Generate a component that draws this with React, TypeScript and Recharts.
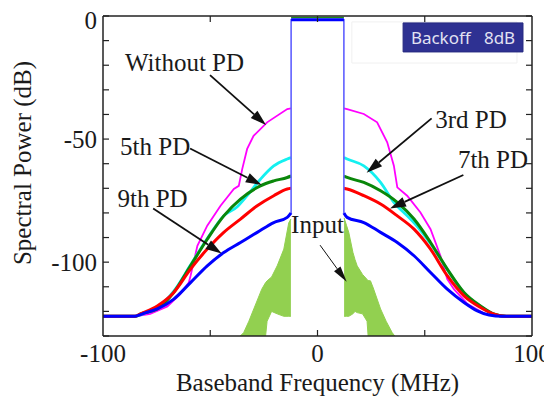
import React from 'react';
import { ComposedChart, Line, Area, XAxis, YAxis, ReferenceLine, ReferenceDot, ReferenceArea } from 'recharts';

// Without PD (magenta)
const withoutFreq = [-100, -85, -78, -70, -64, -60, -59.2, -56, -51.4, -45.2, -39, -36.7, -35.1, -32.8, -29.8, -23.5, -14.1, -12.3,
  12.3, 13.8, 21.6, 27.8, 32.5, 35.6, 37.2, 41.8, 48, 52.7, 57.3, 60.5, 63.6, 70, 78, 85, 100];
const withoutPD = [-122, -122, -121, -118, -113, -108.3, -105.6, -93.4, -85.2, -77.1, -70.3, -69, -62.2, -54, -48.7, -43.2, -37.8, -37.5,
  -37.5, -37.8, -39.8, -43.2, -51.3, -60.8, -69.6, -73, -79.8, -86.6, -97.4, -106.9, -111, -117, -121, -122, -122];

// 3rd PD (cyan)
const pd3Freq = [-100, -85, -80, -74.7, -67, -59.2, -51.4, -43.7, -37.4, -32.8, -26.6, -20.4, -14.1, -12.3,
  12.3, 13.8, 21.6, 29.4, 35.6, 41.6, 45, 52.7, 60.5, 68.3, 76, 82, 88, 100];
const pd3 = [-122, -122, -120.5, -118.5, -111.8, -101.2, -90.4, -81.2, -77.5, -73, -66.3, -60.9, -58.1, -57.5,
  -57.5, -58.1, -60.9, -67.6, -75.7, -81, -84, -92.5, -103, -112.5, -118, -121, -122, -122];

// 5th PD (green)
const pd5Freq = [-100, -85, -82.5, -74.7, -67, -59.2, -51.4, -43.7, -35.9, -26.6, -20.4, -14.1, -12.3,
  12.3, 13.8, 21.6, 29.4, 37.2, 45, 52.7, 60.5, 68.3, 76, 82, 88, 100];
const pd5 = [-122, -122, -121, -119, -112.3, -101.5, -90.7, -81.2, -74.4, -69, -67, -65.6, -65,
  -65, -65.6, -67.6, -71, -75.7, -82.5, -92, -102.8, -112.3, -117.8, -121, -122, -122];

// 7th PD (red)
const pd7Freq = [-100, -85, -82.5, -74.7, -67, -59.2, -51.4, -43.7, -35.9, -28.1, -20.4, -14.1, -12.3,
  12.3, 13.8, 21.6, 29.4, 37.2, 45, 52.7, 60.5, 68.3, 76, 82, 88, 100];
const pd7 = [-122, -122, -121, -117.8, -112.3, -102.8, -94.7, -87.9, -82.5, -77.1, -73, -70.3, -70,
  -70, -70.3, -73, -76.4, -81.2, -86.6, -94.7, -105.5, -113.7, -118.4, -121, -122, -122];

// 9th PD (blue)
const pd9Freq = [-100, -86, -80, -74.7, -67, -59.2, -51.4, -43.7, -35.9, -28.1, -20.4, -14.1, -12.3,
  12.3, 13.8, 21.6, 29.4, 37.2, 45, 52.7, 60.5, 68.3, 74.5, 80, 86, 100];
const pd9 = [-122, -122, -120.5, -119, -115, -108.3, -101.5, -96.1, -92, -87.9, -83.9, -81.8, -80,
  -80, -81.8, -83.9, -87.9, -92, -97.4, -104.2, -111, -116.4, -119.8, -121.5, -122, -122];

// in-band signal
const bandFreq = [-12.3, -12.3, 12.3, 12.3];
const bandLevel = [-80, -1.5, -1.5, -80];
const bandTopFreq = [-12.3, 12.3];
const bandTop = [-1.5, -1.5];
const bandNoise = [-0.6, -0.6];

// Input (filled noisy trace: lower / upper envelope)
const inputFreq = [-36, -34.4, -32, -29.7, -26, -24.2, -23.5, -21.4, -18.8, -15.7, -13.4, -12.4,
  12.4, 13.5, 14.6, 16.5, 17.5, 18.5, 21, 23.1, 23.6, 24.7, 26, 29.4, 32, 34.8, 36];
const inputLow = [-130, -130, -130, -130, -130, -130, -124, -120, -121, -122, -122, -122,
  -122, -122, -122, -121, -120, -120.5, -121, -124, -130, -130, -130, -130, -130, -130, -130];
const inputHigh = [-130, -128.6, -124, -119, -111, -108.3, -107.6, -106, -101.5, -94.7, -84, -82.5,
  -82, -85, -88, -96, -99, -101.5, -105, -107, -107.5, -107.6, -110.5, -119, -124, -128.6, -130];

const xTicks = [-100, -50, 0, 50, 100];
const xLabelled = [-100, 0, 100];
const yTicks = [-130, -120, -110, -100, -90, -80, -70, -60, -50, -40, -30, -20, -10, 0];
const yLabelled = [0, -50, -100];

const notes = [
  { text: 'Without PD', f: -62, db: -22.4 },
  { text: '3rd PD', f: 71.6, db: -45.5 },
  { text: '5th PD', f: -75.7, db: -56.5 },
  { text: '7th PD', f: 81.8, db: -61.8 },
  { text: '9th PD', f: -76.9, db: -77.6 },
  { text: 'Input', f: 0, db: -88.2 },
];

const arrows = [
  { from: [-50.1, -24], to: [-24, -44.3], w: 1.8 },
  { from: [53.2, -41.6], to: [22.9, -63.7], w: 1.8 },
  { from: [-59.4, -53.8], to: [-26, -68.7], w: 1.8 },
  { from: [68, -64.6], to: [33.8, -78.2], w: 1.8 },
  { from: [-76.6, -78.2], to: [-44.7, -96.5], w: 1.8 },
  { from: [1.2, -93.1], to: [13.6, -108], w: 1 },
];

const pts = (f: number[], v: number[]) => f.map((x, i) => ({ f: x, v: v[i] }));
// break a trace at the channel so its two sides are not joined
const split = (f: number[], v: number[]) => {
  const out: { f: number; v: number | null }[] = [];
  f.forEach((x, i) => {
    if (i > 0 && f[i - 1] < 0 && x > 0) out.push({ f: 0, v: null });
    out.push({ f: x, v: v[i] });
  });
  return out;
};
const inputPts = inputFreq.map((x, i) => ({ f: x, r: [inputLow[i], inputHigh[i]] }));
const inputLeft = inputPts.filter((d) => d.f < 0);
const inputRight = inputPts.filter((d) => d.f > 0);

const SERIF = 'Liberation Serif, Times New Roman, serif';
const INK = '#1a1a1a';

const LeftTick = (p: any) => {
  const { x, y, payload } = p;
  return (
    <g>
      <line x1={x} x2={x + 6} y1={y} y2={y} stroke="#222" strokeWidth={1.2} />
      {yLabelled.includes(payload.value) && (
        <text x={x - 6} y={payload.value === 0 ? y + 4 : y} dy="0.35em" textAnchor="end" fontFamily={SERIF} fontSize={25} fill={INK}>{payload.value}</text>
      )}
    </g>
  );
};
const RightTick = (p: any) => (
  <line x1={p.x} x2={p.x - 6} y1={p.y} y2={p.y} stroke="#222" strokeWidth={1.2} />
);
const BottomTick = (p: any) => {
  const { x, y, payload } = p;
  return (
    <g>
      {!xLabelled.includes(payload.value) || payload.value === 0 ? <line x1={x} x2={x} y1={y} y2={y - 6} stroke="#222" strokeWidth={1.2} /> : null}
      {xLabelled.includes(payload.value) && (
        <text x={x} y={y + 26} textAnchor="middle" fontFamily={SERIF} fontSize={25} fill={INK}>{payload.value}</text>
      )}
    </g>
  );
};
const TopTick = (p: any) => (
  <line x1={p.x} x2={p.x} y1={p.y} y2={p.y + 6} stroke="#222" strokeWidth={1.2} />
);

const arrowShape = (w: number) => (p: any) => {
  const { x1, y1, x2, y2 } = p;
  const dx = x2 - x1, dy = y2 - y1;
  const len = Math.hypot(dx, dy) || 1;
  const ux = dx / len, uy = dy / len;
  const hl = 16, hw = w > 1.5 ? 5 : 4;
  const bx = x2 - ux * hl, by = y2 - uy * hl;
  return (
    <g>
      <line x1={x1} y1={y1} x2={bx} y2={by} stroke="#111" strokeWidth={w} />
      <polygon points={`${x2},${y2} ${bx - uy * hw},${by + ux * hw} ${bx + uy * hw},${by - ux * hw}`} fill="#111" />
    </g>
  );
};

export default function App() {
  return (
    <div style={{ width: 544, height: 393 }}>
      <ComposedChart width={544} height={393} margin={{ top: 0, right: 0, bottom: 0, left: 0 }}>
        <XAxis dataKey="f" type="number" domain={[-100, 100]} allowDataOverflow ticks={xTicks} interval={0}
          tickSize={0} tickMargin={0} tickLine={false} tick={BottomTick} height={65}
          axisLine={{ stroke: '#222', strokeWidth: 1.5 }}
          label={(p: any) => {
            const vb = p.viewBox;
            return <text x={vb.x + vb.width / 2} y={vb.y + 55} textAnchor="middle" fontFamily={SERIF} fontSize={25} fill={INK}>Baseband Frequency (MHz)</text>;
          }} />
        <XAxis xAxisId="top" orientation="top" dataKey="f" type="number" domain={[-100, 100]} allowDataOverflow
          ticks={[-50, 0, 50]} interval={0} tickSize={0} tickMargin={0} tickLine={false} tick={TopTick} height={8}
          axisLine={{ stroke: '#222', strokeWidth: 1.5 }} />
        <YAxis type="number" domain={[-130, 0]} allowDataOverflow ticks={yTicks} interval={0}
          tickSize={0} tickMargin={0} tickLine={false} tick={LeftTick} width={95}
          axisLine={{ stroke: '#222', strokeWidth: 1.5 }}
          label={(p: any) => {
            const vb = p.viewBox;
            const cx = vb.x + 14, cy = vb.y + vb.height / 2 - 13;
            return <text x={cx} y={cy} transform={`rotate(-90, ${cx}, ${cy})`} textAnchor="middle" dominantBaseline="central" fontFamily={SERIF} fontSize={25} fill={INK}>Spectral Power (dB)</text>;
          }} />
        <YAxis yAxisId="right" orientation="right" type="number" domain={[-130, 0]} allowDataOverflow ticks={yTicks}
          interval={0} tickSize={0} tickMargin={0} tickLine={false} tick={RightTick} width={20}
          axisLine={{ stroke: '#222', strokeWidth: 1.5 }} />

        <ReferenceArea x1={16} x2={93} y1={-19.1} y2={-2.4} fill="none" stroke="#f0f0f0" strokeWidth={1} />

        <Area data={inputLeft} dataKey="r" type="linear" fill="#92d050" fillOpacity={1} stroke="#92d050" strokeWidth={1} isAnimationActive={false} dot={false} activeDot={false} />
        <Area data={inputRight} dataKey="r" type="linear" fill="#92d050" fillOpacity={1} stroke="#92d050" strokeWidth={1} isAnimationActive={false} dot={false} activeDot={false} />
        <Line data={split(withoutFreq, withoutPD)} dataKey="v" type="linear" stroke="#ff00ff" strokeWidth={1.8} dot={false} isAnimationActive={false} />
        <Line data={split(pd3Freq, pd3)} dataKey="v" type="monotone" stroke="#14f0f0" strokeWidth={2.8} dot={false} isAnimationActive={false} />
        <Line data={split(pd5Freq, pd5)} dataKey="v" type="monotone" stroke="#0a870a" strokeWidth={3} dot={false} isAnimationActive={false} />
        <Line data={split(pd7Freq, pd7)} dataKey="v" type="monotone" stroke="#ff0000" strokeWidth={3} dot={false} isAnimationActive={false} />
        <Line data={split(pd9Freq, pd9)} dataKey="v" type="monotone" stroke="#0000ff" strokeWidth={3} dot={false} isAnimationActive={false} />
        <Line data={pts(bandFreq, bandLevel)} dataKey="v" type="linear" stroke="#6060ff" strokeWidth={1.6} dot={false} isAnimationActive={false} />
        <Line data={pts(bandTopFreq, bandNoise)} dataKey="v" type="linear" stroke="#1c8c1c" strokeWidth={1.5} dot={false} isAnimationActive={false} />
        <Line data={pts(bandTopFreq, bandTop)} dataKey="v" type="linear" stroke="#0000ff" strokeWidth={3} dot={false} isAnimationActive={false} />

        <ReferenceArea x1={39.9} x2={95.8} y1={-14.6} y2={-2.8} fill="#2e3192" fillOpacity={1} stroke="#262a80" strokeWidth={1} />
        <ReferenceDot x={67.85} y={-8.7} r={0} shape={(p: any) => (
          <text x={p.cx} y={p.cy} textAnchor="middle" dominantBaseline="central" fontFamily="Noto Sans, sans-serif" fontSize={17} fill="#e2e2f2">{'Backoff\u00a0\u00a0\u00a08dB'}</text>
        )} />

        {arrows.map((a, i) => (
          <ReferenceLine key={'a' + i} segment={[{ x: a.from[0], y: a.from[1] }, { x: a.to[0], y: a.to[1] }]} shape={arrowShape(a.w)} />
        ))}
        {notes.map((n, i) => (
          <ReferenceDot key={'n' + i} x={n.f} y={n.db} r={0} shape={(p: any) => (
            <text x={p.cx} y={p.cy} textAnchor="middle" fontFamily={SERIF} fontSize={25} fill={INK}>{n.text}</text>
          )} />
        ))}
      </ComposedChart>
    </div>
  );
}
